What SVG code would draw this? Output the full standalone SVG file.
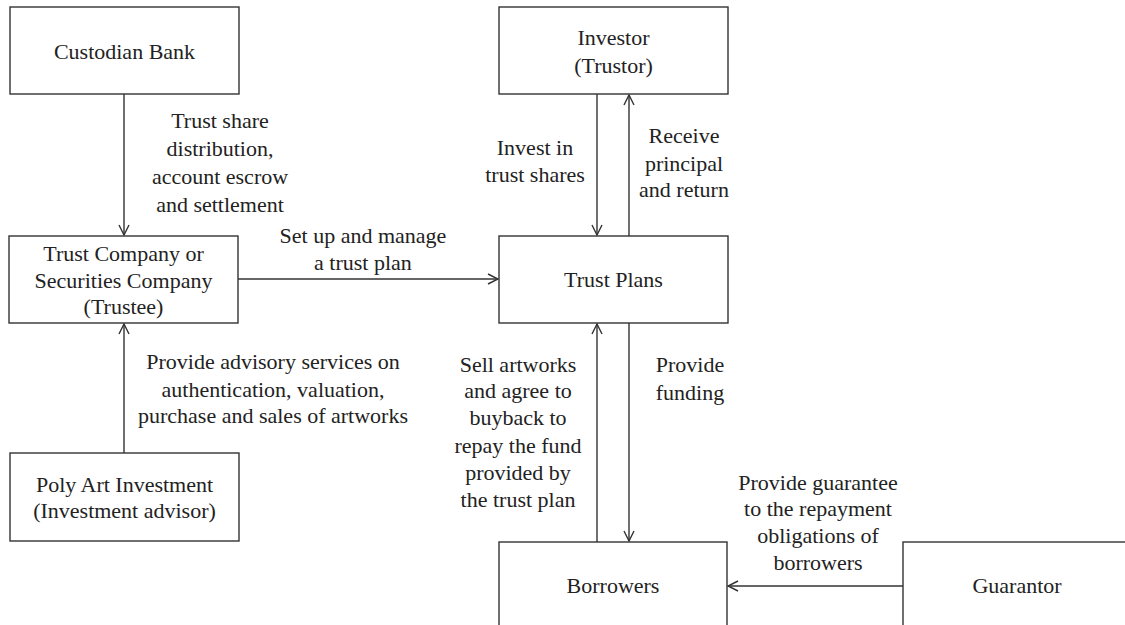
<svg xmlns="http://www.w3.org/2000/svg" width="1125" height="625" viewBox="0 0 1125 625">
  <style>
    .box { fill: #ffffff; stroke: #333333; stroke-width: 1.4; }
    .edge { fill: none; stroke: #333333; stroke-width: 1.4; marker-end: url(#open-arrow); }
    text { font-family: "Liberation Serif", "Times New Roman", serif; font-size: 22px; fill: #222222; text-anchor: middle; }
  </style>
  <defs>
    <marker id="open-arrow" viewBox="0 0 12 12" refX="11" refY="6" markerWidth="12" markerHeight="12" markerUnits="userSpaceOnUse" orient="auto">
      <path d="M1,1 L11,6 L1,11" fill="none" stroke="#333333" stroke-width="1.4"/>
    </marker>
  </defs>
  <rect width="1125" height="625" fill="#ffffff"/>

  <!-- Nodes -->
  <g id="custodian-bank">
    <rect class="box" x="10" y="7" width="229" height="87"/>
    <text x="124.5" y="59">Custodian Bank</text>
  </g>
  <g id="investor">
    <rect class="box" x="499" y="7" width="229" height="87"/>
    <text x="613.5" y="45">Investor</text>
    <text x="613.5" y="73">(Trustor)</text>
  </g>
  <g id="trust-company">
    <rect class="box" x="9" y="236" width="229" height="87"/>
    <text x="123.5" y="261">Trust Company or</text>
    <text x="123.5" y="288">Securities Company</text>
    <text x="123.5" y="314">(Trustee)</text>
  </g>
  <g id="trust-plans">
    <rect class="box" x="499" y="236" width="229" height="87"/>
    <text x="613.5" y="287">Trust Plans</text>
  </g>
  <g id="poly-art">
    <rect class="box" x="10" y="453" width="229" height="88"/>
    <text x="124.5" y="492">Poly Art Investment</text>
    <text x="124.5" y="518">(Investment advisor)</text>
  </g>
  <g id="borrowers">
    <rect class="box" x="499" y="542" width="228" height="100"/>
    <text x="613" y="593">Borrowers</text>
  </g>
  <g id="guarantor">
    <rect class="box" x="903" y="542" width="228" height="100"/>
    <text x="1017" y="593">Guarantor</text>
  </g>

  <!-- Connectors -->
  <g id="connectors">
    <line class="edge" x1="124" y1="94" x2="124" y2="235"/>
    <line class="edge" x1="124" y1="453" x2="124" y2="324"/>
    <line class="edge" x1="238" y1="279" x2="498" y2="279"/>
    <line class="edge" x1="597" y1="94" x2="597" y2="235"/>
    <line class="edge" x1="629" y1="236" x2="629" y2="95"/>
    <line class="edge" x1="597" y1="542" x2="597" y2="324"/>
    <line class="edge" x1="629" y1="323" x2="629" y2="541"/>
    <line class="edge" x1="903" y1="586" x2="728" y2="586"/>
  </g>

  <!-- Connector labels -->
  <g id="labels">
    <text x="220" y="128">Trust share</text>
    <text x="220" y="156">distribution,</text>
    <text x="220" y="184">account escrow</text>
    <text x="220" y="212">and settlement</text>

    <text x="363" y="243">Set up and manage</text>
    <text x="363" y="270">a trust plan</text>

    <text x="535" y="155">Invest in</text>
    <text x="535" y="182">trust shares</text>

    <text x="684" y="143">Receive</text>
    <text x="684" y="171">principal</text>
    <text x="684" y="197">and return</text>

    <text x="273" y="369">Provide advisory services on</text>
    <text x="273" y="397">authentication, valuation,</text>
    <text x="273" y="423">purchase and sales of artworks</text>

    <text x="518" y="372">Sell artworks</text>
    <text x="518" y="398">and agree to</text>
    <text x="518" y="425">buyback to</text>
    <text x="518" y="453">repay the fund</text>
    <text x="518" y="480">provided by</text>
    <text x="518" y="507">the trust plan</text>

    <text x="690" y="372">Provide</text>
    <text x="690" y="400">funding</text>

    <text x="818" y="490">Provide guarantee</text>
    <text x="818" y="516">to the repayment</text>
    <text x="818" y="543">obligations of</text>
    <text x="818" y="570">borrowers</text>
  </g>
</svg>
